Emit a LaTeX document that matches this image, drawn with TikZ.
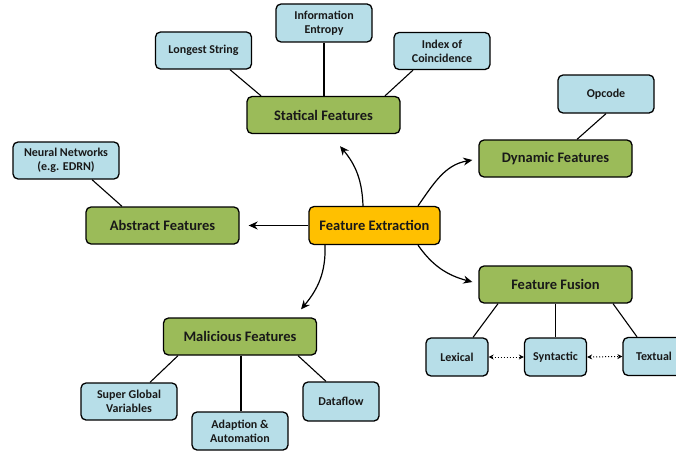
\documentclass[tikz,border=0pt]{standalone}
\usepackage{fontspec}
\setmainfont{Carlito}
\usetikzlibrary{arrows.meta}
\definecolor{gfill}{HTML}{9BBB59}
\definecolor{bfill}{HTML}{B7DEE8}
\definecolor{yfill}{HTML}{FFC000}
\tikzset{
  base/.style={draw=black, line width=1.3pt, rounded corners=5pt, align=center, inner sep=0pt, text=black!90},
  gbox/.style={base, fill=gfill, minimum width=153pt, minimum height=37pt, font=\fontsize{14.5}{16}\selectfont\bfseries},
  bbox/.style={base, fill=bfill, minimum width=96pt, minimum height=37pt, font=\fontsize{12}{14}\selectfont\bfseries},
  ybox/.style={base, fill=yfill, minimum width=131pt, minimum height=38pt, font=\fontsize{14.5}{16}\selectfont\bfseries},
  link/.style={line width=1.1pt},
  arr/.style={line width=1.2pt, -{Stealth[length=9pt,width=8pt]}},
  darr/.style={line width=1pt, dotted, {Stealth[length=5pt,width=5pt]}-{Stealth[length=5pt,width=5pt]}}
}
\begin{document}
\begin{tikzpicture}[x=1pt,y=1pt]
\useasboundingbox (0,0) rectangle (676,-452);
% nodes
\node[ybox] (fe) at (374.5,-225.5) {Feature Extraction};
\node[gbox] (sf) at (323.5,-115) {Statical Features};
\node[bbox] (ls) at (203.5,-50.5) {Longest String};
\node[bbox, minimum height=38pt] (ie) at (324,-23) {Information\\Entropy};
\node[bbox] (ic) at (442,-51) {Index of\\Coincidence};
\node[gbox] (dyn) at (555.5,-158.5) {Dynamic Features};
\node[bbox, minimum height=38pt] (op) at (606,-94) {Opcode};
\node[gbox] (abs) at (162.5,-225.5) {Abstract Features};
\node[bbox, minimum width=106pt] (nn) at (66,-160.5) {Neural Networks\\(e.g. EDRN)};
\node[gbox] (fus) at (555.5,-284.5) {Feature Fusion};
\node[bbox, minimum width=62pt, minimum height=38pt] (lex) at (457,-357) {Lexical};
\node[bbox, minimum width=62pt, minimum height=38pt] (syn) at (555.5,-357) {Syntactic};
\node[bbox, minimum width=62pt, minimum height=38pt] (tex) at (654,-356.5) {Textual};
\node[gbox] (mal) at (240,-336.5) {Malicious Features};
\node[bbox] (sgv) at (129,-401.5) {Super Global\\Variables};
\node[bbox, minimum height=38pt] (aa) at (240,-431) {Adaption \&\\Automation};
\node[bbox, minimum width=76pt, minimum height=39pt] (df) at (341,-401.5) {Dataflow};
% plain links
\draw[link] ([xshift=26.5]ls.south) -- ([xshift=-62.5]sf.north);
\draw[link] (ie.south) -- (ie.south |- sf.north);
\draw[link] ([xshift=-29]ic.south) -- ([xshift=61.5]sf.north);
\draw[link] (op.south) -- ([xshift=21.5]dyn.north);
\draw[link] ([xshift=26]nn.south) -- ([xshift=-40.5]abs.north);
\draw[link] ([xshift=-57.5]fus.south) -- ([xshift=16]lex.north);
\draw[link] (fus.south) -- (syn.north);
\draw[link] ([xshift=57.5]fus.south) -- ([xshift=-17]tex.north);
\draw[link] ([xshift=-62]mal.south) -- ([xshift=21]sgv.north);
\draw[link] ([xshift=1]mal.south) -- ([xshift=1]aa.north);
\draw[link] ([xshift=58]mal.south) -- ([xshift=-15]df.north);
% dotted double arrows
\draw[darr] (lex.east) -- (syn.west);
\draw[darr] (syn.east) -- (tex.west);
% arrows from Feature Extraction
\draw[arr] ([xshift=-11.5]fe.north) to[out=92, in=-50] ([xshift=16.5, yshift=-12]sf.south);
\draw[arr] ([xshift=43.5]fe.north) to[out=55, in=190] ([xshift=-6, yshift=-1.5]dyn.west);
\draw[arr] ([xshift=43.5]fe.south) to[out=-55, in=165] ([xshift=-6, yshift=2.5]fus.west);
\draw[arr] ([xshift=-49.5]fe.south) to[out=-88, in=50] ([xshift=61, yshift=8]mal.north);
\draw[arr] (fe.west) -- ([xshift=9]abs.east);
\end{tikzpicture}
\end{document}
